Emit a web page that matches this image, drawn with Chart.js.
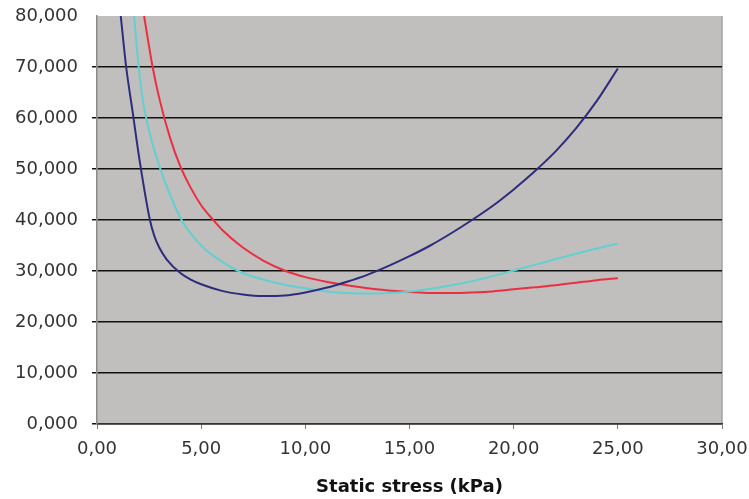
<!DOCTYPE html>
<html lang="en">
<head>
<meta charset="UTF-8">
<title>Static stress</title>
<script src="https://cdn.jsdelivr.net/npm/chart.js@4.4.1/dist/chart.umd.min.js"></script>
<style>
  html, body { margin: 0; padding: 0; background: #fff; }
</style>
</head>
<body>
<canvas id="chart" width="749" height="499"></canvas>
<script>
// values (x in kPa, y as shown on the axis)
const navyX = [1.14, 1.4, 1.7, 2.06, 2.54, 2.75, 3.0, 3.34, 4, 4.5, 5, 6, 7, 8, 9, 10, 11, 12, 13, 14, 15, 16, 17, 18, 19, 20, 21, 22, 23, 24, 25];
const navyY = [80, 70, 61.5, 51.3, 40, 36.9, 34.5, 32.3, 29.6, 28.3, 27.4, 26.1, 25.4, 25.1, 25.2, 25.8, 26.7, 27.9, 29.3, 31.0, 32.9, 35.0, 37.4, 40.0, 42.8, 46.0, 49.5, 53.4, 58.0, 63.4, 69.7];

const cyanX = [1.78, 2.0, 2.2, 2.5, 3.0, 3.5, 4.06, 5, 6, 7, 8, 9, 10, 11, 12, 13, 14, 15, 16, 17, 18, 19, 20, 21, 22, 23, 24, 25];
const cyanY = [80, 70, 63.5, 57.5, 50.5, 45, 40, 35, 31.8, 29.6, 28.3, 27.3, 26.6, 26.0, 25.7, 25.6, 25.7, 26.0, 26.5, 27.2, 28.0, 29.0, 30.1, 31.2, 32.3, 33.4, 34.4, 35.4];

const redX = [2.26, 2.67, 3.0, 3.5, 4.0, 4.5, 5, 5.58, 6, 7, 8, 9, 10, 11, 12, 13, 14, 15, 16, 17, 18, 19, 20, 21, 22, 23, 24, 25];
const redY = [80, 70, 63.7, 56.2, 50.5, 46.3, 42.9, 40, 38.1, 34.6, 32.0, 30.1, 28.8, 27.9, 27.2, 26.6, 26.2, 25.9, 25.7, 25.7, 25.8, 26.0, 26.4, 26.8, 27.2, 27.7, 28.2, 28.6];

const xTickLabels = ['0,00', '5,00', '10,00', '15,00', '20,00', '25,00', '30,00'];
const yTickLabels = ['0,000', '10,000', '20,000', '30,000', '40,000', '50,000', '60,000', '70,000', '80,000'];

function toPoints(xs, ys) {
  return xs.map((x, i) => ({ x: x, y: ys[i] }));
}

// gray plot area + thin right edge
const plotBg = {
  id: 'plotBg',
  beforeDraw(chart) {
    const { ctx, chartArea: a } = chart;
    ctx.save();
    ctx.fillStyle = '#c1bebe';
    ctx.fillRect(a.left, a.top, a.right - a.left, a.bottom - a.top);
    ctx.strokeStyle = '#a3a0a0';
    ctx.lineWidth = 1.5;
    ctx.beginPath();
    ctx.moveTo(a.right, a.top);
    ctx.lineTo(a.right, a.bottom);
    ctx.stroke();
    ctx.restore();
  }
};

const line = (data, color) => ({
  data: data,
  showLine: true,
  borderColor: color,
  borderWidth: 2,
  pointRadius: 0,
  cubicInterpolationMode: 'monotone',
  fill: false
});

const tickFont = { family: 'DejaVu Sans', size: 18 };

new Chart(document.getElementById('chart').getContext('2d'), {
  type: 'scatter',
  data: {
    datasets: [
      line(toPoints(navyX, navyY), '#2d2d7c'),
      line(toPoints(cyanX, cyanY), '#62d0d0'),
      line(toPoints(redX, redY), '#ec2f40')
    ]
  },
  options: {
    responsive: false,
    animation: false,
    devicePixelRatio: 1,
    layout: { padding: { left: 0, right: 27, top: 16, bottom: 0 } },
    plugins: {
      legend: { display: false },
      tooltip: { enabled: false }
    },
    scales: {
      x: {
        type: 'linear',
        min: 0,
        max: 30,
        afterFit: s => { s.height = 75; s.paddingLeft = 0; s.paddingRight = 0; },
        ticks: {
          stepSize: 5,
          color: '#333',
          font: tickFont,
          padding: 10,
          maxRotation: 0,
          callback: (v, i) => xTickLabels[i]
        },
        grid: { drawOnChartArea: false, color: '#7a7a7a', tickLength: 5, lineWidth: 1 },
        border: { color: '#333', width: 1.5 },
        title: {
          display: true,
          text: 'Static stress (kPa)',
          color: '#111',
          font: { family: 'DejaVu Sans', size: 18, weight: 'bold' },
          padding: { top: 0, bottom: 1 }
        }
      },
      y: {
        min: 0,
        max: 80,
        afterFit: s => { s.width = 97; s.paddingTop = 0; s.paddingBottom = 0; },
        ticks: {
          stepSize: 10,
          color: '#333',
          font: tickFont,
          padding: 14,
          callback: (v, i) => yTickLabels[i]
        },
        grid: {
          color: c => (c.tick && c.tick.value === 80) ? 'rgba(0,0,0,0)' : '#111',
          lineWidth: 1.5,
          tickLength: 5
        },
        border: { color: '#8a8a8a', width: 1.5 }
      }
    }
  },
  plugins: [plotBg]
});
</script>
</body>
</html>
